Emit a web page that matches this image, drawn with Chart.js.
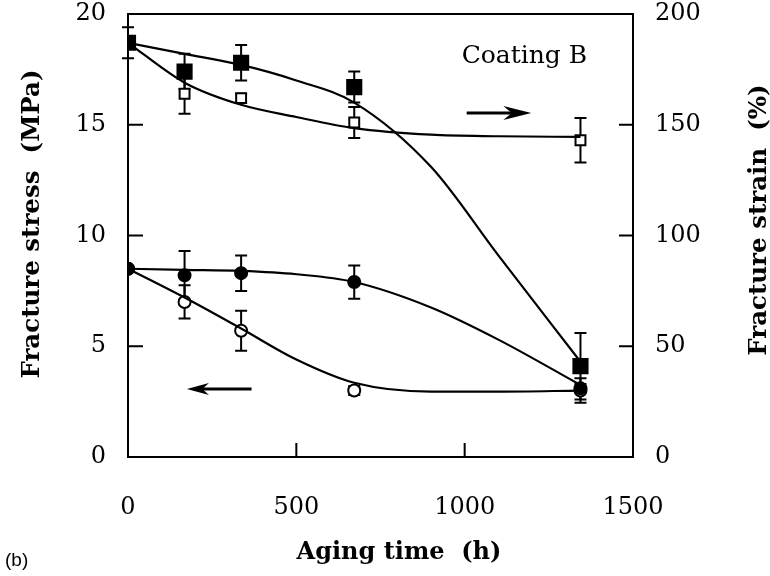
<!DOCTYPE html>
<html>
<head>
<meta charset="utf-8">
<script src="https://cdn.jsdelivr.net/npm/chart.js@4.4.0/dist/chart.umd.min.js"></script>
<style>
  html, body { margin: 0; padding: 0; background: #fff; }
</style>
</head>
<body>
<canvas id="chart" width="770" height="576"></canvas>
<script>
// measured points (aging time in hours)
let hours = [0, 168, 336, 672, 1344];

let strainFilled = [187, 174, 178, 167, 41];
let strainFilledErr = [7, 8, 8, 7, 15];
let strainOpen = [187, 164, 162, 151, 143];
let strainOpenErr = [0, 9, 2, 7, 10];

let stressFilled = [8.5, 8.2, 8.3, 7.9, 3.1];
let stressFilledErr = [0, 1.1, 0.8, 0.75, 0.2];
let stressOpen = [8.5, 7.0, 5.7, 3.0, 3.0];
let stressOpenErr = [0, 0.75, 0.9, 0.2, 0.55];

// fitted curves
let fitHours = [0, 168, 336, 500, 672, 900, 1100, 1344];
let fitStrainFilled = [187, 182, 177, 170, 160, 131, 91, 43];
let fitStrainOpen = [187, 169, 159, 153.5, 148.5, 145.5, 144.8, 144.5];
let fitStressFilled = [8.5, 8.45, 8.4, 8.25, 7.9, 6.75, 5.3, 3.25];
let fitStressOpen = [8.5, 7.2, 5.8, 4.4, 3.35, 2.95, 2.95, 3.0];

let xTicks = [0, 500, 1000, 1500];
let stressTicks = [0, 5, 10, 15, 20];
let strainTicks = [0, 50, 100, 150, 200];

const tickFont = { family: 'DejaVu Serif', size: 24 };

function pts(xs, ys) {
    return xs.map((x, i) => ({ x: x, y: ys[i] }));
}

function fitLine(ys, axis) {
    return {
        type: 'line',
        data: pts(fitHours, ys),
        yAxisID: axis,
        borderColor: '#000',
        borderWidth: 2.2,
        pointRadius: 0,
        cubicInterpolationMode: 'monotone',
        fill: false
    };
}

function markers(ys, errs, axis, style, radius, filled) {
    return {
        type: 'scatter',
        data: pts(hours, ys),
        yAxisID: axis,
        errorBars: errs,
        pointStyle: style,
        pointRadius: radius,
        pointBackgroundColor: filled ? '#000' : '#fff',
        pointBorderColor: '#000',
        pointBorderWidth: 2
    };
}

const decor = {
    id: 'decor',
    beforeDatasetsDraw(chart) {
        const ctx = chart.ctx;
        const xs = chart.scales.x;
        ctx.save();
        ctx.strokeStyle = '#000';
        ctx.lineWidth = 2;
        chart.data.datasets.forEach(ds => {
            if (!ds.errorBars) return;
            const ys = chart.scales[ds.yAxisID];
            ds.data.forEach((p, i) => {
                const e = ds.errorBars[i];
                if (!e) return;
                const px = xs.getPixelForValue(p.x);
                const top = ys.getPixelForValue(p.y + e);
                const bot = ys.getPixelForValue(p.y - e);
                ctx.beginPath();
                ctx.moveTo(px, top); ctx.lineTo(px, bot);
                ctx.moveTo(px - 6, top); ctx.lineTo(px + 6, top);
                ctx.moveTo(px - 6, bot); ctx.lineTo(px + 6, bot);
                ctx.stroke();
            });
        });
        ctx.restore();
    },
    afterDraw(chart) {
        const ctx = chart.ctx;
        const a = chart.chartArea;
        const xs = chart.scales.x, yl = chart.scales.y, yr = chart.scales.y1;
        ctx.save();
        ctx.strokeStyle = '#000';
        ctx.fillStyle = '#000';
        ctx.lineWidth = 2;
        ctx.strokeRect(a.left, a.top, a.right - a.left, a.bottom - a.top);

        // inward tick marks
        ctx.beginPath();
        xs.ticks.forEach(t => {
            const p = xs.getPixelForValue(t.value);
            ctx.moveTo(p, a.bottom); ctx.lineTo(p, a.bottom - 14);
        });
        yl.ticks.forEach(t => {
            const p = yl.getPixelForValue(t.value);
            ctx.moveTo(a.left, p); ctx.lineTo(a.left + 15, p);
        });
        yr.ticks.forEach(t => {
            const p = yr.getPixelForValue(t.value);
            ctx.moveTo(a.right, p); ctx.lineTo(a.right - 14, p);
        });
        ctx.stroke();

        // arrows pointing to the axis each pair belongs to
        function arrow(x1, x2, y, head, half) {
            const dir = Math.sign(x2 - x1);
            ctx.beginPath();
            ctx.lineWidth = 3;
            ctx.moveTo(x1, y); ctx.lineTo(x2 - dir * head * 0.6, y);
            ctx.stroke();
            ctx.beginPath();
            ctx.moveTo(x2, y);
            ctx.lineTo(x2 - dir * head, y - half);
            ctx.lineTo(x2 - dir * head * 0.7, y);
            ctx.lineTo(x2 - dir * head, y + half);
            ctx.closePath();
            ctx.fill();
        }
        arrow(xs.getPixelForValue(367), xs.getPixelForValue(175), yl.getPixelForValue(3.07), 22, 6);
        arrow(xs.getPixelForValue(1006), xs.getPixelForValue(1198), yr.getPixelForValue(155.3), 28, 7);

        ctx.textBaseline = 'middle';
        ctx.textAlign = 'left';
        ctx.font = '25px "DejaVu Serif"';
        ctx.fillText('Coating B', xs.getPixelForValue(991), yr.getPixelForValue(181));

        ctx.font = 'bold 24.5px "DejaVu Serif"';
        ctx.textAlign = 'center';
        ctx.save();
        ctx.translate(33, 224);
        ctx.rotate(-Math.PI / 2);
        ctx.fillText('Fracture stress  (MPa)', 0, 0);
        ctx.restore();
        ctx.save();
        ctx.translate(760, 220);
        ctx.rotate(-Math.PI / 2);
        ctx.fillText('Fracture strain  (%)', 0, 0);
        ctx.restore();

        ctx.font = 'bold 24px "DejaVu Serif"';
        ctx.fillText('Aging time  (h)', 399, 553);

        ctx.font = '19px "Liberation Sans"';
        ctx.textAlign = 'left';
        ctx.fillText('(b)', 5, 561);
        ctx.restore();
    }
};

function noPad(s) {
    s.paddingTop = 0;
    s.paddingBottom = 0;
}

new Chart(document.getElementById('chart').getContext('2d'), {
    data: {
        datasets: [
            fitLine(fitStrainFilled, 'y1'),
            fitLine(fitStrainOpen, 'y1'),
            fitLine(fitStressFilled, 'y'),
            fitLine(fitStressOpen, 'y'),
            markers(strainFilled, strainFilledErr, 'y1', 'rect', 10, true),
            markers(strainOpen, strainOpenErr, 'y1', 'rect', 7, false),
            markers(stressFilled, stressFilledErr, 'y', 'circle', 6, true),
            markers(stressOpen, stressOpenErr, 'y', 'circle', 6, false)
        ]
    },
    options: {
        responsive: false,
        animation: false,
        layout: { padding: { top: 14, left: 0, right: 0, bottom: 0 } },
        plugins: { legend: { display: false }, tooltip: { enabled: false } },
        scales: {
            x: {
                type: 'linear', min: 0, max: 1500,
                afterBuildTicks: s => { s.ticks = xTicks.map(v => ({ value: v })); },
                ticks: { font: tickFont, color: '#000', padding: 36, maxRotation: 0, callback: v => String(v) },
                grid: { display: false, drawTicks: false },
                border: { display: false },
                afterFit: s => { s.height = 119; s.paddingLeft = 0; s.paddingRight = 0; }
            },
            y: {
                position: 'left', min: 0, max: 20,
                afterBuildTicks: s => { s.ticks = stressTicks.map(v => ({ value: v })); },
                ticks: { font: tickFont, color: '#000', padding: 22, callback: v => String(v) },
                grid: { display: false, drawTicks: false },
                border: { display: false },
                afterFit: s => { s.width = 128; noPad(s); }
            },
            y1: {
                position: 'right', min: 0, max: 200,
                afterBuildTicks: s => { s.ticks = strainTicks.map(v => ({ value: v })); },
                ticks: { font: tickFont, color: '#000', padding: 22, callback: v => String(v) },
                grid: { display: false, drawTicks: false },
                border: { display: false },
                afterFit: s => { s.width = 137; noPad(s); }
            }
        }
    },
    plugins: [decor]
});
</script>
</body>
</html>
